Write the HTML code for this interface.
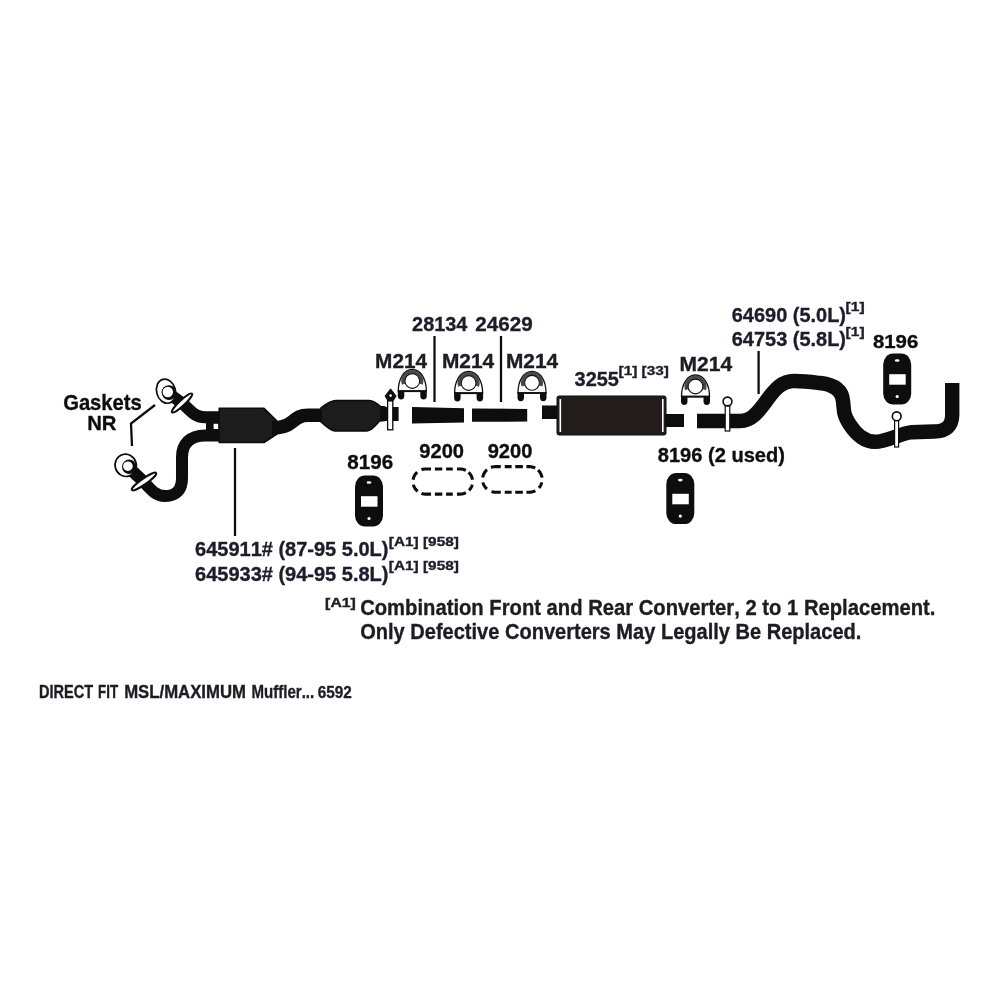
<!DOCTYPE html>
<html><head><meta charset="utf-8"><title>Exhaust diagram</title>
<style>
html,body{margin:0;padding:0;background:#fff;}
svg{display:block;}
text{font-family:"Liberation Sans",sans-serif;font-weight:bold;font-kerning:none;white-space:pre;}
</style></head><body>
<svg width="1000" height="1000" viewBox="0 0 1000 1000">
<filter id="gf" x="0" y="0" width="1000" height="1000" filterUnits="userSpaceOnUse"><feGaussianBlur stdDeviation="0.6"/></filter>
<g filter="url(#gf)">
<rect width="1000" height="1000" fill="#fff"/>
<defs>
 <g id="clamp">
  <path d="M-14,10 C-14,-1 -9,-11.5 0,-11.5 C9,-11.5 14,-1 14,10 Z" fill="#fff" stroke="#111" stroke-width="1.3"/>
  <path d="M-8.7,3.2 A9.25,9.25 0 1 1 8.7,3.2" fill="none" stroke="#4a4a4a" stroke-width="3.6"/>
  <circle cx="0" cy="0" r="7.4" fill="#fff" stroke="#111" stroke-width="1.1"/>
  <line x1="-14.5" y1="10.2" x2="14.5" y2="10.2" stroke="#111" stroke-width="1.8"/>
  <path d="M-14.5,10 L-8,10 L-8,15 C-8,17.5 -9.5,18.5 -11.2,18.5 C-13,18.5 -14.5,17.5 -14.5,15 Z" fill="#111"/>
  <path d="M8,10 L14.5,10 L14.5,15 C14.5,17.5 13,18.5 11.2,18.5 C9.5,18.5 8,17.5 8,15 Z" fill="#111"/>
 </g>
 <g id="hanger">
  <rect x="0" y="0" width="28" height="51" rx="10" ry="11" fill="#0d0d0d"/>
  <rect x="6" y="20.7" width="16.5" height="10.5" fill="#fff"/>
  <ellipse cx="14" cy="7" rx="2.4" ry="1.3" fill="#fff"/>
  <circle cx="14" cy="43" r="1.6" fill="#fff"/>
 </g>
</defs>

<!-- Gaskets leader -->
<polyline points="155,405 131,423.5 132,446" fill="none" stroke="#111" stroke-width="2.3"/>

<!-- upper front pipe -->
<path d="M168,393 L182.5,403.5 C190,409.5 194,417.3 205,417.3 L222,417.3" fill="none" stroke="#0a0a0a" stroke-width="12"/>
<!-- lower front pipe -->
<path d="M128,467 L144,482 C151,490 156,496 165,496 C177,496 182,489 182,478 L182,457 C182,444 190,435.4 205,435.4 L222,435.4" fill="none" stroke="#0a0a0a" stroke-width="12"/>
<rect x="206" y="422" width="14" height="9" fill="#0a0a0a"/>
<rect x="213.6" y="423.8" width="4.8" height="5.2" fill="#fff"/>

<!-- upper flange ring -->
<ellipse cx="166" cy="391.2" rx="9.4" ry="12.2" transform="rotate(-15 166 391.2)" fill="#fff" stroke="#0a0a0a" stroke-width="1.7"/>
<circle cx="169" cy="392.6" r="7.4" fill="#0a0a0a"/>
<circle cx="167.8" cy="392" r="5.2" fill="#fff"/>
<!-- upper flange plate -->
<ellipse cx="182" cy="403" rx="13.6" ry="2.8" transform="rotate(-43 182 403)" fill="#fff" stroke="#0a0a0a" stroke-width="2"/>

<!-- lower flange ring -->
<ellipse cx="125.7" cy="465.3" rx="10.6" ry="11.2" transform="rotate(-15 125.7 465.3)" fill="#fff" stroke="#0a0a0a" stroke-width="1.7"/>
<circle cx="129.2" cy="466.8" r="7.2" fill="#0a0a0a"/>
<circle cx="127.9" cy="466.2" r="4.8" fill="#fff"/>
<ellipse cx="144" cy="481.5" rx="14.8" ry="2.9" transform="rotate(-35 144 481.5)" fill="#fff" stroke="#0a0a0a" stroke-width="2"/>

<!-- converter 1 -->
<polygon points="219.2,408.2 264,408.2 277,421 277,434 264,442.5 219.2,442.5" fill="#1e1a1b" stroke="#0a0a0a" stroke-width="1.5" stroke-linejoin="round"/>
<!-- pipe between converters -->
<path d="M272,428 C280,428 286,427 292,422 C297,418 300,415.3 308,415.3 L327,415.3" fill="none" stroke="#0a0a0a" stroke-width="13.6"/>
<!-- converter 2 -->
<path d="M321,407.8 C326,404 330,400.6 336,400.4 L369,400.4 C374,400.6 377,403 380.5,406.5 L385,407 L385,420.6 L379.5,421 C375,426 372,430.6 367,430.9 L335,430.9 C330,430.6 326,426 321,422 Z" fill="#1f1b1c" stroke="#0a0a0a" stroke-width="1.5" stroke-linejoin="round"/>
<rect x="380" y="407" width="18.6" height="14" fill="#0a0a0a"/>
<!-- pin 1 -->
<rect x="387.6" y="400.8" width="5.2" height="29" fill="#fff" stroke="#0a0a0a" stroke-width="1.3"/>
<path d="M390.6,388.8 L396.2,396 L393.2,400.8 L387.8,400.8 L385,396 Z" fill="#0a0a0a" stroke="#0a0a0a" stroke-width="0.8" stroke-linejoin="round"/>
<circle cx="390.6" cy="395.6" r="1.3" fill="#fff"/>

<!-- pipes -->
<polygon points="412,407 464,408.2 464,422.5 412,423.5" fill="#0a0a0a"/>
<polygon points="472,408.5 527.2,409 527.2,421.6 472,421.8" fill="#0a0a0a"/>
<rect x="542" y="405.5" width="16" height="13.5" fill="#0a0a0a"/>

<!-- muffler -->
<rect x="557" y="396" width="109" height="39" rx="2" fill="#221e1f" stroke="#0a0a0a" stroke-width="1"/>
<line x1="560.3" y1="399" x2="560.3" y2="432" stroke="#fff" stroke-width="1.6"/>
<line x1="662.8" y1="399" x2="662.8" y2="432" stroke="#fff" stroke-width="1.6"/>
<rect x="665" y="414" width="19" height="13" fill="#0a0a0a"/>

<!-- tailpipe -->
<path d="M697,421 L740,421 C752,421 759,411 767,400 C775,389 782,381 794,381 C805,381 812,382 820,383 C834,384.5 842,390 843,401 L844,411 C845,419 853,431 861,437 C866,440.5 869,441.8 875,441.8 C887,441.8 898,434 912,432.2 L934,431.5 C946,431.2 952.2,426 952.2,415 L952.2,383" fill="none" stroke="#0a0a0a" stroke-width="14.4"/>
<!-- pin 2 -->
<rect x="725.2" y="405.5" width="4.6" height="25.5" fill="#fff" stroke="#0a0a0a" stroke-width="1.2"/>
<circle cx="727.5" cy="401.5" r="4.4" fill="#fff" stroke="#0a0a0a" stroke-width="1.6"/>
<!-- pin 3 -->
<rect x="894.6" y="419.5" width="4" height="27.5" fill="#fff" stroke="#0a0a0a" stroke-width="1.2"/>
<circle cx="896.7" cy="416.3" r="4.4" fill="#fff" stroke="#0a0a0a" stroke-width="1.6"/>

<!-- leaders -->
<line x1="434.5" y1="336" x2="434.5" y2="402" stroke="#111" stroke-width="2.3"/>
<line x1="501" y1="336" x2="501" y2="402" stroke="#111" stroke-width="2.3"/>
<line x1="758.6" y1="351" x2="758.6" y2="394" stroke="#111" stroke-width="2.3"/>
<line x1="235" y1="448" x2="235" y2="536" stroke="#111" stroke-width="2.3"/>

<!-- clamps -->
<use href="#clamp" x="412.3" y="381"/>
<use href="#clamp" x="468.6" y="383"/>
<use href="#clamp" x="532" y="382.8"/>
<use href="#clamp" x="695.5" y="386.5"/>

<!-- hangers -->
<use href="#hanger" x="355" y="475.5"/>
<use href="#hanger" x="666.3" y="473.1"/>
<use href="#hanger" x="883.2" y="353.5"/>

<!-- dashed ovals -->
<path d="M421.48,469.68 L421.86,469.55 L422.24,469.44 L422.62,469.35 L423.01,469.26 L423.39,469.19 L423.78,469.13 L424.17,469.08 L424.57,469.04 L424.96,469.01 L425.35,469.00 L425.90,469.00 L426.59,469.00 L427.28,469.00 L427.97,469.00 L428.66,469.00 L429.35,469.00 L430.04,469.00 L430.73,469.00 L431.07,469.00 M434.87,469.00 L435.56,469.00 L436.25,469.00 L436.94,469.00 L437.62,469.00 L438.31,469.00 L439.00,469.00 L439.69,469.00 L440.38,469.00 L441.07,469.00 L441.76,469.00 L442.28,469.00 M446.08,469.00 L446.77,469.00 L447.46,469.00 L448.15,469.00 L448.84,469.00 L449.53,469.00 L450.22,469.00 L450.91,469.00 L451.60,469.00 L452.29,469.00 L452.81,469.00 M456.94,469.00 L457.63,469.00 L458.32,469.00 L459.01,469.00 L459.71,469.00 L460.25,469.00 L460.64,469.01 L461.03,469.04 L461.43,469.08 L461.82,469.13 L462.21,469.19 L462.59,469.26 L462.98,469.35 L463.36,469.44 L463.74,469.55 L464.12,469.68 L464.49,469.81 L464.85,469.96 L465.21,470.11 L465.57,470.28 L465.84,470.41 M468.57,472.33 L468.85,472.61 L469.13,472.89 L469.40,473.18 L469.66,473.47 L469.91,473.78 L470.14,474.09 L470.37,474.41 L470.59,474.74 L470.80,475.08 L471.00,475.42 L471.19,475.76 L471.36,476.12 L471.53,476.48 L471.68,476.84 L471.82,477.21 L471.95,477.58 L472.07,477.95 L472.18,478.33 L472.28,478.72 L472.36,479.10 L472.43,479.49 L472.47,479.78 M472.21,484.67 L472.10,485.05 L471.99,485.43 L471.86,485.80 L471.72,486.17 L471.57,486.53 L471.41,486.89 L471.23,487.25 L471.05,487.60 L470.85,487.94 L470.65,488.27 L470.43,488.60 L470.20,488.93 L469.97,489.24 L469.72,489.55 L469.46,489.85 L469.20,490.14 L468.99,490.35 M465.84,492.69 L465.48,492.86 L465.12,493.03 L464.76,493.18 L464.39,493.32 L464.02,493.45 L463.65,493.57 L463.27,493.68 L462.88,493.78 L462.50,493.86 L462.11,493.93 L461.72,493.99 L461.33,494.03 L460.94,494.07 L460.54,494.09 L460.15,494.10 L459.53,494.10 L458.84,494.10 L458.15,494.10 L457.46,494.10 L456.94,494.10 M452.81,494.10 L452.12,494.10 L451.43,494.10 L450.74,494.10 L450.05,494.10 L449.36,494.10 L448.67,494.10 L447.98,494.10 L447.29,494.10 L446.60,494.10 L446.08,494.10 M442.28,494.10 L441.59,494.10 L440.90,494.10 L440.21,494.10 L439.52,494.10 L438.83,494.10 L438.14,494.10 L437.45,494.10 L436.76,494.10 L436.07,494.10 L435.38,494.10 L434.87,494.10 M431.07,494.10 L430.38,494.10 L429.69,494.10 L429.00,494.10 L428.31,494.10 L427.62,494.10 L426.93,494.10 L426.24,494.10 L425.55,494.10 L425.16,494.09 L424.76,494.08 L424.37,494.04 L423.98,494.00 L423.59,493.95 L423.20,493.88 L422.81,493.80 L422.43,493.71 L422.05,493.60 L421.67,493.49 L421.48,493.42 M417.63,491.28 L417.32,491.03 L417.03,490.77 L416.75,490.49 L416.47,490.21 L416.20,489.92 L415.94,489.63 L415.69,489.32 L415.46,489.01 L415.23,488.69 L415.01,488.36 L414.80,488.02 L414.60,487.68 L414.41,487.34 L414.24,486.98 L414.07,486.62 L413.92,486.26 L413.78,485.89 L413.65,485.52 L413.53,485.15 L413.42,484.77 L413.39,484.67 M413.13,479.78 L413.19,479.39 L413.26,479.01 L413.35,478.62 L413.44,478.24 L413.55,477.86 L413.68,477.48 L413.81,477.11 L413.96,476.75 L414.11,476.39 L414.28,476.03 L414.46,475.68 L414.65,475.33 L414.85,474.99 L415.06,474.66 L415.28,474.33 L415.51,474.01 L415.76,473.70 L416.01,473.40 L416.27,473.10 L416.54,472.82 L416.82,472.54 L417.10,472.27 L417.18,472.20" fill="none" stroke="#111" stroke-width="3.1"/>
<path d="M490.95,467.44 L491.33,467.31 L491.71,467.19 L492.10,467.08 L492.49,466.98 L492.88,466.90 L493.28,466.82 L493.67,466.76 L494.07,466.72 L494.47,466.68 L494.87,466.66 L495.27,466.65 L495.88,466.65 L496.56,466.65 L497.24,466.65 L497.92,466.65 L498.60,466.65 L499.28,466.65 L499.96,466.65 L500.64,466.65 L500.81,466.65 M504.71,466.65 L505.39,466.65 L506.07,466.65 L506.75,466.65 L507.43,466.65 L508.11,466.65 L508.79,466.65 L509.46,466.65 L510.14,466.65 L510.82,466.65 L511.50,466.65 L511.67,466.65 M515.24,466.65 L515.91,466.65 L516.59,466.65 L517.27,466.65 L517.95,466.65 L518.63,466.65 L519.31,466.65 L519.99,466.65 L520.67,466.65 L521.35,466.65 L522.03,466.65 L522.70,466.65 L522.87,466.65 M526.44,466.65 L527.12,466.65 L527.80,466.65 L528.48,466.65 L529.16,466.65 L529.63,466.65 L530.03,466.67 L530.43,466.70 L530.83,466.74 L531.22,466.79 L531.62,466.86 L532.01,466.94 L532.40,467.03 L532.79,467.13 L533.18,467.24 L533.56,467.37 L533.93,467.51 L534.31,467.66 L534.67,467.82 L535.04,468.00 L535.21,468.09 M538.07,470.11 L538.36,470.39 L538.64,470.68 L538.91,470.98 L539.17,471.28 L539.42,471.60 L539.66,471.92 L539.89,472.24 L540.11,472.58 L540.32,472.92 L540.52,473.27 L540.71,473.63 L540.88,473.99 L541.05,474.35 L541.20,474.72 L541.34,475.10 L541.47,475.48 L541.59,475.86 L541.70,476.25 L541.79,476.64 L541.87,477.03 L541.94,477.43 L541.97,477.62 M541.77,482.31 L541.67,482.70 L541.56,483.09 L541.44,483.47 L541.31,483.85 L541.17,484.22 L541.01,484.59 L540.84,484.95 L540.66,485.31 L540.47,485.67 L540.27,486.01 L540.06,486.35 L539.83,486.69 L539.60,487.01 L539.36,487.33 L539.10,487.65 L538.91,487.87 M535.30,490.72 L534.95,490.90 L534.58,491.07 L534.21,491.23 L533.84,491.38 L533.46,491.51 L533.08,491.64 L532.70,491.75 L532.31,491.85 L531.92,491.93 L531.52,492.01 L531.13,492.07 L530.73,492.12 L530.33,492.16 L529.93,492.19 L529.53,492.20 L528.99,492.20 L528.31,492.20 L527.63,492.20 L526.95,492.20 L526.44,492.20 M522.87,492.20 L522.20,492.20 L521.52,492.20 L520.84,492.20 L520.16,492.20 L519.48,492.20 L518.80,492.20 L518.12,492.20 L517.44,492.20 L516.76,492.20 L516.08,492.20 L515.41,492.20 L515.24,492.20 M511.67,492.20 L510.99,492.20 L510.31,492.20 L509.63,492.20 L508.96,492.20 L508.28,492.20 L507.60,492.20 L506.92,492.20 L506.24,492.20 L505.56,492.20 L504.88,492.20 L504.71,492.20 M500.81,492.20 L500.13,492.20 L499.45,492.20 L498.77,492.20 L498.09,492.20 L497.41,492.20 L496.73,492.20 L496.05,492.20 L495.38,492.20 L494.97,492.19 L494.57,492.17 L494.17,492.14 L493.77,492.10 L493.38,492.04 L492.98,491.97 L492.59,491.89 L492.20,491.80 L491.81,491.69 L491.52,491.61 M486.93,489.01 L486.63,488.74 L486.34,488.46 L486.06,488.17 L485.79,487.87 L485.53,487.57 L485.28,487.25 L485.04,486.93 L484.81,486.61 L484.59,486.27 L484.38,485.93 L484.18,485.58 L483.99,485.22 L483.82,484.86 L483.65,484.50 L483.50,484.13 L483.36,483.75 L483.23,483.37 L483.11,482.99 L483.00,482.60 L482.93,482.31 M482.74,477.53 L482.81,477.13 L482.89,476.74 L482.98,476.35 L483.08,475.96 L483.19,475.57 L483.32,475.19 L483.46,474.82 L483.61,474.44 L483.77,474.08 L483.95,473.71 L484.13,473.36 L484.33,473.01 L484.54,472.66 L484.75,472.33 L484.98,472.00 L485.22,471.67 L485.47,471.36 L485.73,471.05 L485.99,470.75 L486.27,470.46 L486.56,470.18 L486.85,469.91 L487.08,469.71" fill="none" stroke="#111" stroke-width="3.1"/>
<text x="63.17" y="409.95" font-size="21.66" textLength="78.66" lengthAdjust="spacingAndGlyphs" fill="#111" stroke="#111" stroke-width="0.35">Gaskets</text>
<text x="87.14" y="429.95" font-size="20.93" textLength="29.27" lengthAdjust="spacingAndGlyphs" fill="#111" stroke="#111" stroke-width="0.35">NR</text>
<text x="375.11" y="367.95" font-size="20.93" textLength="52.00" lengthAdjust="spacingAndGlyphs" fill="#1c1c24" stroke="#1c1c24" stroke-width="0.35">M214</text>
<text x="441.90" y="367.75" font-size="20.35" textLength="52.21" lengthAdjust="spacingAndGlyphs" fill="#1c1c24" stroke="#1c1c24" stroke-width="0.35">M214</text>
<text x="506.01" y="367.75" font-size="20.35" textLength="52.11" lengthAdjust="spacingAndGlyphs" fill="#1c1c24" stroke="#1c1c24" stroke-width="0.35">M214</text>
<text x="679.60" y="371.45" font-size="20.20" textLength="52.52" lengthAdjust="spacingAndGlyphs" fill="#1c1c24" stroke="#1c1c24" stroke-width="0.35">M214</text>
<text x="412.11" y="330.85" font-size="20.77" textLength="55.19" lengthAdjust="spacingAndGlyphs" fill="#1e1f2b" stroke="#1e1f2b" stroke-width="0.35">28134</text>
<text x="475.28" y="330.85" font-size="20.77" textLength="57.48" lengthAdjust="spacingAndGlyphs" fill="#1e1f2b" stroke="#1e1f2b" stroke-width="0.35">24629</text>
<text x="574.54" y="385.70" font-size="20.99" textLength="44.41" lengthAdjust="spacingAndGlyphs" fill="#1e1f2b" stroke="#1e1f2b" stroke-width="0.35">3255</text>
<text x="618.64" y="374.83" font-size="12.87" textLength="50.22" lengthAdjust="spacingAndGlyphs" fill="#1e1f2b" stroke="#1e1f2b" stroke-width="0.35">[1] [33]</text>
<text x="731.77" y="321.70" font-size="20.63" textLength="114.22" lengthAdjust="spacingAndGlyphs" fill="#1e1f2b" stroke="#1e1f2b" stroke-width="0.35">64690 (5.0L)</text>
<text x="845.63" y="311.08" font-size="12.87" textLength="19.00" lengthAdjust="spacingAndGlyphs" fill="#1e1f2b" stroke="#1e1f2b" stroke-width="0.35">[1]</text>
<text x="731.77" y="345.70" font-size="19.56" textLength="114.22" lengthAdjust="spacingAndGlyphs" fill="#1e1f2b" stroke="#1e1f2b" stroke-width="0.35">64753 (5.8L)</text>
<text x="845.63" y="335.66" font-size="13.68" textLength="19.00" lengthAdjust="spacingAndGlyphs" fill="#1e1f2b" stroke="#1e1f2b" stroke-width="0.35">[1]</text>
<text x="872.95" y="348.05" font-size="18.48" textLength="45.38" lengthAdjust="spacingAndGlyphs" fill="#111" stroke="#111" stroke-width="0.35">8196</text>
<text x="347.35" y="469.25" font-size="20.20" textLength="45.80" lengthAdjust="spacingAndGlyphs" fill="#111" stroke="#111" stroke-width="0.35">8196</text>
<text x="419.30" y="458.45" font-size="20.20" textLength="44.72" lengthAdjust="spacingAndGlyphs" fill="#111" stroke="#111" stroke-width="0.35">9200</text>
<text x="487.70" y="458.45" font-size="20.20" textLength="44.72" lengthAdjust="spacingAndGlyphs" fill="#111" stroke="#111" stroke-width="0.35">9200</text>
<text x="657.76" y="461.65" font-size="20.77" textLength="127.24" lengthAdjust="spacingAndGlyphs" fill="#111" stroke="#111" stroke-width="0.35">8196 (2 used)</text>
<text x="195.02" y="555.95" font-size="19.56" textLength="193.48" lengthAdjust="spacingAndGlyphs" fill="#1e1f2b" stroke="#1e1f2b" stroke-width="0.35">645911# (87-95 5.0L)</text>
<text x="388.89" y="546.33" font-size="12.87" textLength="69.97" lengthAdjust="spacingAndGlyphs" fill="#1e1f2b" stroke="#1e1f2b" stroke-width="0.35">[A1] [958]</text>
<text x="195.02" y="580.70" font-size="19.56" textLength="193.48" lengthAdjust="spacingAndGlyphs" fill="#1e1f2b" stroke="#1e1f2b" stroke-width="0.35">645933# (94-95 5.8L)</text>
<text x="388.89" y="570.33" font-size="12.87" textLength="69.97" lengthAdjust="spacingAndGlyphs" fill="#1e1f2b" stroke="#1e1f2b" stroke-width="0.35">[A1] [958]</text>
<text x="325.11" y="607.33" font-size="12.87" textLength="30.78" lengthAdjust="spacingAndGlyphs" fill="#1c1c24" stroke="#1c1c24" stroke-width="0.35">[A1]</text>
<text x="360.17" y="615.45" font-size="21.66" textLength="575.22" lengthAdjust="spacingAndGlyphs" fill="#1c1c24" stroke="#1c1c24" stroke-width="0.35">Combination Front and Rear Converter, 2 to 1 Replacement.</text>
<text x="360.18" y="639.45" font-size="21.66" textLength="501.20" lengthAdjust="spacingAndGlyphs" fill="#1c1c24" stroke="#1c1c24" stroke-width="0.35">Only Defective Converters May Legally Be Replaced.</text>
<text x="39.03" y="697.65" font-size="17.59" textLength="54.13" lengthAdjust="spacingAndGlyphs" fill="#1c1c24" stroke="#1c1c24" stroke-width="0.35">DIRECT</text>
<text x="98.11" y="697.65" font-size="17.59" textLength="20.04" lengthAdjust="spacingAndGlyphs" fill="#1c1c24" stroke="#1c1c24" stroke-width="0.35">FIT</text>
<text x="124.18" y="697.65" font-size="17.59" textLength="121.74" lengthAdjust="spacingAndGlyphs" fill="#1c1c24" stroke="#1c1c24" stroke-width="0.35">MSL/MAXIMUM</text>
<text x="251.59" y="697.65" font-size="17.59" textLength="62.64" lengthAdjust="spacingAndGlyphs" fill="#1c1c24" stroke="#1c1c24" stroke-width="0.35">Muffler...</text>
<text x="317.64" y="697.65" font-size="17.34" textLength="34.07" lengthAdjust="spacingAndGlyphs" fill="#1c1c24" stroke="#1c1c24" stroke-width="0.35">6592</text>
</g>
</svg>
</body></html>
